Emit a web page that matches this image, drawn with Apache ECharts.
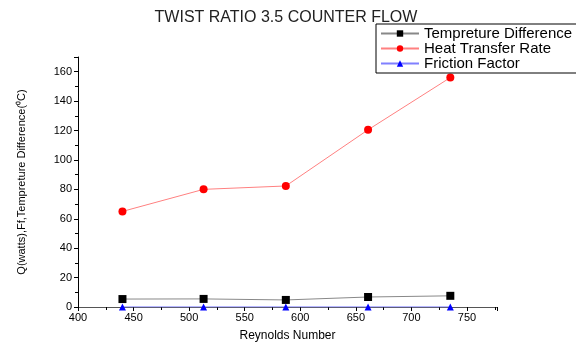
<!DOCTYPE html>
<html><head><meta charset="utf-8">
<script src="https://cdn.jsdelivr.net/npm/echarts@6/dist/echarts.min.js"></script>
<style>html,body{margin:0;padding:0;background:#fff}#c{width:576px;height:347px}</style>
</head><body><div id="c"></div>
<script>
const reynolds = [440, 513, 587, 661, 735];
const tempDiff = [5.4, 5.5, 4.8, 6.8, 7.6];
const heatRate = [65, 80, 82.3, 120.5, 156];
const friction = [0.05, 0.05, 0.05, 0.05, 0.05];
const seriesNames = ['Tempreture Difference', 'Heat Transfer Rate', 'Friction Factor'];

const pair = a => reynolds.map((x, i) => [x, a[i]]);
const font = 'Liberation Sans, Arial, sans-serif';
const chart = echarts.init(document.getElementById('c'));
chart.setOption({
  animation: false,
  title: { text: 'TWIST RATIO 3.5 COUNTER FLOW', left: 281, top: 5, textAlign: 'center',
    textStyle: { fontFamily: font, fontSize: 16, fontWeight: 'normal', color: '#222', lineHeight: 16 } },
  legend: {
    orient: 'vertical', left: 376, top: 24, itemGap: 0, itemWidth: 38, itemHeight: 8,
    borderColor: '#000', borderWidth: 1, padding: [2, 40, 2, 4],
    textStyle: { fontFamily: font, fontSize: 15, color: '#000', lineHeight: 14 },
    data: seriesNames
  },
  grid: { left: 78, right: 79, top: 57, bottom: 40, containLabel: false },
  xAxis: {
    type: 'value', min: 400, max: 777, interval: 50,
    name: 'Reynolds Number', nameLocation: 'middle', nameGap: 23,
    nameTextStyle: { fontFamily: font, fontSize: 12, color: '#000' },
    axisLine: { lineStyle: { color: '#555' } },
    axisTick: { inside: false, length: 4, lineStyle: { color: '#000' } },
    minorTick: { show: true, splitNumber: 2, length: 3, lineStyle: { color: '#000' } },
    axisLabel: { fontFamily: font, fontSize: 11, color: '#000', margin: 5,
      formatter: v => (v % 50 === 0 && v <= 750) ? String(v) : '' },
    splitLine: { show: false }
  },
  yAxis: {
    type: 'value', min: 0, max: 170, interval: 20,
    name: 'Q(watts),Ff,Tempreture Difference(\u2070C)', nameLocation: 'middle', nameGap: 51,
    nameTextStyle: { fontFamily: font, fontSize: 11, color: '#000' },
    axisLine: { show: true, lineStyle: { color: '#000' } },
    axisTick: { inside: false, length: 4, lineStyle: { color: '#000' } },
    minorTick: { show: true, splitNumber: 2, length: 3, lineStyle: { color: '#000' } },
    axisLabel: { fontFamily: font, fontSize: 11, color: '#000', margin: 6,
      formatter: v => (v % 20 === 0 && v <= 160) ? String(v) : '' },
    splitLine: { show: false }
  },
  series: [
    { name: seriesNames[0], type: 'line', data: pair(tempDiff), symbol: 'rect', symbolSize: 8,
      itemStyle: { color: '#000' }, lineStyle: { color: '#888', width: 1 } },
    { name: seriesNames[1], type: 'line', data: pair(heatRate), symbol: 'circle', symbolSize: 8,
      itemStyle: { color: '#ff0000' }, lineStyle: { color: '#ff8080', width: 1 } },
    { name: seriesNames[2], type: 'line', data: pair(friction), symbol: 'triangle', symbolSize: 7,
      itemStyle: { color: '#0000ff' }, lineStyle: { color: '#8080ff', width: 1 } }
  ]
});
</script></body></html>
